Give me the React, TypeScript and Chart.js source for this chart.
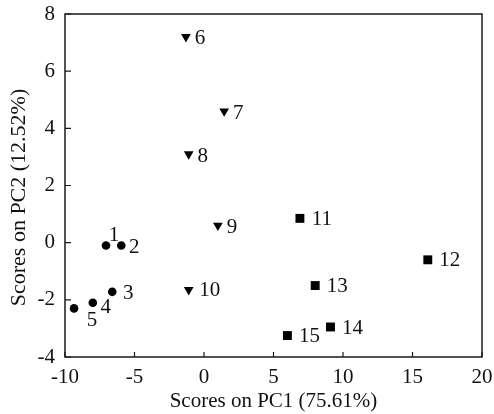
import React, { useEffect, useRef } from "react";
import { Chart, registerables } from "chart.js";

Chart.register(...registerables);

const groupA_x = [-7.05, -5.95, -6.6, -8.0, -9.35];
const groupA_y = [-0.1, -0.1, -1.72, -2.1, -2.3];
const groupA_labels = ["1", "2", "3", "4", "5"];

const groupB_x = [-1.3, 1.45, -1.1, 1.0, -1.1];
const groupB_y = [7.2, 4.6, 3.1, 0.6, -1.65];
const groupB_labels = ["6", "7", "8", "9", "10"];

const groupC_x = [6.9, 16.1, 8.0, 9.1, 6.0];
const groupC_y = [0.85, -0.6, -1.5, -2.95, -3.25];
const groupC_labels = ["11", "12", "13", "14", "15"];

const xTicks = [-10, -5, 0, 5, 10, 15, 20];
const yTicks = [-4, -2, 0, 2, 4, 6, 8];

const xTitle = "Scores on PC1 (75.61%)";
const yTitle = "Scores on PC2 (12.52%)";

const FONT = "'Liberation Serif', 'DejaVu Serif', serif";

// label placement (style): offset in px of label centre from marker
const labelOffsetsStyle: Record<string, [number, number]> = {
  "1": [8, -10],
  "2": [13, 2],
  "3": [16, 2],
  "4": [13, 5],
  "5": [18, 12],
};
const defaultOffset = (txt: string, shape: string): [number, number] =>
  txt.length > 1 ? [shape === "rect" ? 22 : 21, 1] : [14, 2];

export default function App() {
  const ref = useRef<HTMLCanvasElement | null>(null);

  useEffect(() => {
    document.body.style.margin = "0";
    const canvas = ref.current;
    if (!canvas) return;

    const mk = (xs: number[], ys: number[]) => xs.map((x, i) => ({ x, y: ys[i] }));

    const frameAndLabels = {
      id: "frameAndLabels",
      afterDatasetsDraw(chart: any) {
        const { ctx, chartArea } = chart;
        const xs = chart.scales.x;
        const ys = chart.scales.y;
        ctx.save();
        ctx.strokeStyle = "#1a1a1a";
        ctx.lineWidth = 1.5;
        ctx.strokeRect(chartArea.left, chartArea.top, chartArea.right - chartArea.left, chartArea.bottom - chartArea.top);
        ctx.lineWidth = 1.2;
        ctx.beginPath();
        xTicks.forEach((t) => {
          const px = xs.getPixelForValue(t);
          ctx.moveTo(px, chartArea.bottom);
          ctx.lineTo(px, chartArea.bottom - 5);
        });
        yTicks.forEach((t) => {
          const py = ys.getPixelForValue(t);
          ctx.moveTo(chartArea.left, py);
          ctx.lineTo(chartArea.left + 6, py);
        });
        ctx.stroke();

        ctx.fillStyle = "#111";
        ctx.font = `21px ${FONT}`;
        ctx.textAlign = "center";
        ctx.textBaseline = "middle";
        chart.data.datasets.forEach((ds: any, di: number) => {
          const meta = chart.getDatasetMeta(di);
          meta.data.forEach((el: any, i: number) => {
            const txt = ds.pointLabels[i];
            const off = labelOffsetsStyle[txt] || defaultOffset(txt, ds.pointStyle);
            ctx.fillText(txt, el.x + off[0], el.y + off[1]);
          });
        });

        // axis titles
        ctx.font = `21px ${FONT}`;
        ctx.fillText(xTitle, (chartArea.left + chartArea.right) / 2, 401);
        ctx.translate(19, (chartArea.top + chartArea.bottom) / 2 + 12);
        ctx.rotate(-Math.PI / 2);
        ctx.font = `22px ${FONT}`;
        ctx.fillText(yTitle, 0, 0);
        ctx.restore();
      },
    };

    const chart = new Chart(canvas, {
      type: "scatter",
      data: {
        datasets: [
          {
            data: mk(groupA_x, groupA_y),
            pointStyle: "circle",
            pointRadius: 4.3,
            backgroundColor: "#000",
            borderColor: "#000",
            borderWidth: 0,
            pointLabels: groupA_labels,
          } as any,
          {
            data: mk(groupB_x, groupB_y),
            pointStyle: "triangle",
            rotation: 180,
            pointRadius: 5.6,
            backgroundColor: "#000",
            borderColor: "#000",
            borderWidth: 0,
            pointLabels: groupB_labels,
          } as any,
          {
            data: mk(groupC_x, groupC_y),
            pointStyle: "rect",
            pointRadius: 6.3,
            backgroundColor: "#000",
            borderColor: "#000",
            borderWidth: 0,
            pointLabels: groupC_labels,
          } as any,
        ],
      },
      options: {
        animation: false,
        responsive: false,
        devicePixelRatio: 1,
        layout: { padding: { left: 0, right: 12, top: 14, bottom: 0 } },
        plugins: { legend: { display: false }, tooltip: { enabled: false } },
        scales: {
          x: {
            type: "linear",
            min: -10,
            max: 20,
            afterBuildTicks: (s: any) => {
              s.ticks = xTicks.map((v) => ({ value: v }));
            },
            afterFit: (s: any) => {
              s.height = 57;
              s.paddingLeft = 0;
              s.paddingRight = 0;
              s.paddingTop = 0;
              s.paddingBottom = 0;
            },
            grid: { display: false, drawTicks: false },
            border: { display: false },
            ticks: { color: "#111", font: { family: FONT, size: 21 }, padding: 8, maxRotation: 0 },
            title: { display: false },
          },
          y: {
            type: "linear",
            min: -4,
            max: 8,
            afterBuildTicks: (s: any) => {
              s.ticks = yTicks.map((v) => ({ value: v }));
            },
            afterFit: (s: any) => {
              s.width = 65;
              s.paddingLeft = 0;
              s.paddingRight = 0;
              s.paddingTop = 0;
              s.paddingBottom = 0;
            },
            grid: { display: false, drawTicks: false },
            border: { display: false },
            ticks: { color: "#111", font: { family: FONT, size: 21 }, padding: 10 },
            title: { display: false },
          },
        },
      },
      plugins: [frameAndLabels],
    } as any);

    return () => chart.destroy();
  }, []);

  return <canvas ref={ref} width={494} height={414} style={{ display: "block", width: 494, height: 414 }} />;
}
